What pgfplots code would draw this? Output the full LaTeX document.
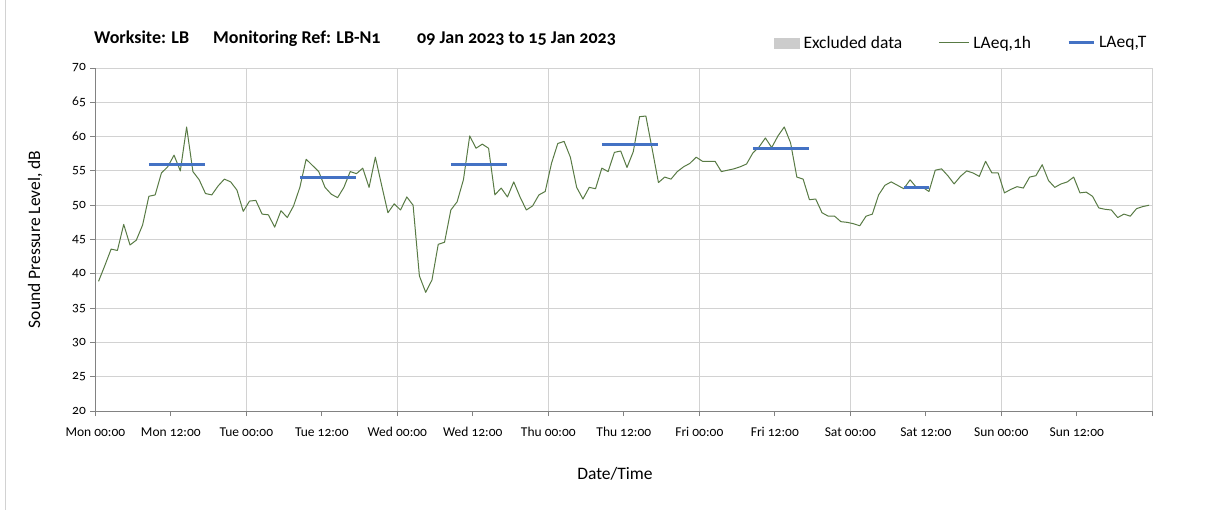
\documentclass[border=0pt]{standalone}
\usepackage{pgfplots}
\usepackage{pgfplotstable}
\pgfplotsset{compat=1.18}
\usepackage{fontspec}
\setmainfont{Carlito}[Numbers=OldStyle]
\definecolor{lgreen}{RGB}{88,122,68}
\definecolor{lblue}{RGB}{68,114,196}
\definecolor{gridc}{RGB}{210,210,210}
\definecolor{axc}{RGB}{130,130,130}
\pgfplotsset{
  linethirty/.style={legend image code/.code={\draw[##1] (0bp,0bp) -- (30bp,0bp);}},
  linetwentyfive/.style={legend image code/.code={\draw[##1] (0bp,0bp) -- (25bp,0bp);}},
  greybox/.style={legend image code/.code={\fill[black!20] (0bp,-5bp) rectangle (25bp,5bp);}},
}

\pgfplotstableread{
x L
0.5 38.9
1.5 41.2
2.5 43.6
3.5 43.4
4.5 47.2
5.5 44.2
6.5 44.9
7.5 47.1
8.5 51.3
9.5 51.5
10.5 54.7
11.5 55.6
12.5 57.3
13.5 55.0
14.5 61.4
15.5 54.9
16.5 53.7
17.5 51.7
18.5 51.5
19.5 52.8
20.5 53.8
21.5 53.4
22.5 52.2
23.5 49.1
24.5 50.6
25.5 50.7
26.5 48.7
27.5 48.6
28.5 46.8
29.5 49.2
30.5 48.2
31.5 49.9
32.5 52.6
33.5 56.7
34.5 55.8
35.5 54.9
36.5 52.6
37.5 51.6
38.5 51.1
39.5 52.6
40.5 54.9
41.5 54.6
42.5 55.4
43.5 52.6
44.5 57.0
45.5 52.9
46.5 48.9
47.5 50.2
48.5 49.3
49.5 51.2
50.5 50.0
51.5 39.7
52.5 37.3
53.5 39.1
54.5 44.3
55.5 44.6
56.5 49.3
57.5 50.5
58.5 53.7
59.5 60.1
60.5 58.3
61.5 58.9
62.5 58.3
63.5 51.5
64.5 52.5
65.5 51.2
66.5 53.4
67.5 51.2
68.5 49.3
69.5 49.9
70.5 51.5
71.5 52.0
72.5 56.1
73.5 59.0
74.5 59.3
75.5 57.0
76.5 52.6
77.5 50.9
78.5 52.6
79.5 52.4
80.5 55.4
81.5 54.9
82.5 57.7
83.5 57.9
84.5 55.5
85.5 57.8
86.5 62.9
87.5 63.0
88.5 58.2
89.5 53.3
90.5 54.1
91.5 53.8
92.5 54.9
93.5 55.6
94.5 56.1
95.5 57.0
96.5 56.4
97.5 56.4
98.5 56.4
99.5 54.9
100.5 55.1
101.5 55.3
102.5 55.6
103.5 56.0
104.5 57.6
105.5 58.5
106.5 59.8
107.5 58.4
108.5 60.1
109.5 61.4
110.5 59.1
111.5 54.1
112.5 53.8
113.5 50.8
114.5 50.9
115.5 48.9
116.5 48.4
117.5 48.4
118.5 47.6
119.5 47.5
120.5 47.3
121.5 47.0
122.5 48.4
123.5 48.7
124.5 51.5
125.5 52.9
126.5 53.4
127.5 52.9
128.5 52.4
129.5 53.7
130.5 52.6
131.5 52.6
132.5 52.0
133.5 55.1
134.5 55.3
135.5 54.3
136.5 53.1
137.5 54.2
138.5 55.0
139.5 54.7
140.5 54.2
141.5 56.4
142.5 54.7
143.5 54.7
144.5 51.8
145.5 52.3
146.5 52.7
147.5 52.5
148.5 54.1
149.5 54.3
150.5 55.9
151.5 53.6
152.5 52.6
153.5 53.1
154.5 53.4
155.5 54.1
156.5 51.8
157.5 51.9
158.5 51.3
159.5 49.6
160.5 49.4
161.5 49.3
162.5 48.2
163.5 48.7
164.5 48.4
165.5 49.5
166.5 49.8
167.5 50.0
}\hourly

\pgfplotstableread{
x L
8.5 55.9
17.5 55.9
nan nan
32.5 54.1
41.5 54.1
nan nan
56.5 56.0
65.5 56.0
nan nan
80.5 58.8
89.5 58.8
nan nan
104.5 58.3
113.5 58.3
nan nan
128.5 52.6
132.5 52.6
}\period

\begin{document}
\begin{tikzpicture}
\path[use as bounding box] (0bp,0bp) rectangle (1208bp,510bp);
\draw[gridc, line width=0.8bp] (5bp,0bp) -- (5bp,510bp);
\node[anchor=base west, font=\bfseries\fontsize{18bp}{20bp}\selectfont, inner sep=0pt] at (94bp,466bp) {Worksite: LB};
\node[anchor=base west, font=\bfseries\fontsize{18bp}{20bp}\selectfont, inner sep=0pt] at (213bp,466bp) {Monitoring Ref: LB-N1};
\node[anchor=base west, font=\bfseries\fontsize{18bp}{20bp}\selectfont, inner sep=0pt] at (417bp,466bp) {09 Jan 2023 to 15 Jan 2023};
\begin{axis}[
  at={(95.4bp,99bp)}, anchor=south west,
  scale only axis, width=1056.9bp, height=343bp,
  xmin=0, xmax=168, ymin=20, ymax=70,
  axis lines=left, axis line style={-, axc, line width=0.8bp},
  tick align=outside, major tick length=5bp,
  tick style={axc, line width=0.8bp},
  ytick={20,25,...,70},
  xtick={0,24,...,168},
  xticklabels={Mon 00:00,Tue 00:00,Wed 00:00,Thu 00:00,Fri 00:00,Sat 00:00,Sun 00:00,{}},
  extra x ticks={12,36,...,156},
  extra x tick labels={Mon 12:00,Tue 12:00,Wed 12:00,Thu 12:00,Fri 12:00,Sat 12:00,Sun 12:00},
  extra x tick style={grid=none},
  xmajorgrids, ymajorgrids,
  major grid style={gridc, line width=0.8bp},
  /pgf/number format/assume math mode=true,
  ticklabel style={font=\fontsize{13.5bp}{15bp}\selectfont},
  yticklabel style={xshift=-1bp},
  xticklabel style={yshift=-8bp},
  xlabel={Date/Time}, ylabel={Sound Pressure Level, dB},
  label style={font=\fontsize{17.5bp}{20bp}\selectfont},
  xlabel style={at={(axis description cs:0.4916,-0.184)}, anchor=center},
  ylabel style={at={(axis description cs:-0.0571,0.5)}, anchor=center},
  legend columns=3,
  legend style={at={(axis description cs:0.642,1.073)}, anchor=west, draw=none, fill=none,
    font=\fontsize{17.5bp}{20bp}\selectfont, inner sep=0pt,
    /tikz/every even column/.append style={column sep=34bp},
    /tikz/every odd column/.append style={column sep=2bp}},
  unbounded coords=jump,
]
\addlegendimage{greybox}
\addlegendentry{Excluded data}
\addplot[lgreen, line width=1bp, line join=round, linethirty] table[x=x, y=L] {\hourly};
\addlegendentry{LAeq,1h}
\addplot[lblue, line width=3bp, linetwentyfive] table[x=x, y=L] {\period};
\addlegendentry{LAeq,T}
\end{axis}
\end{tikzpicture}
\end{document}
